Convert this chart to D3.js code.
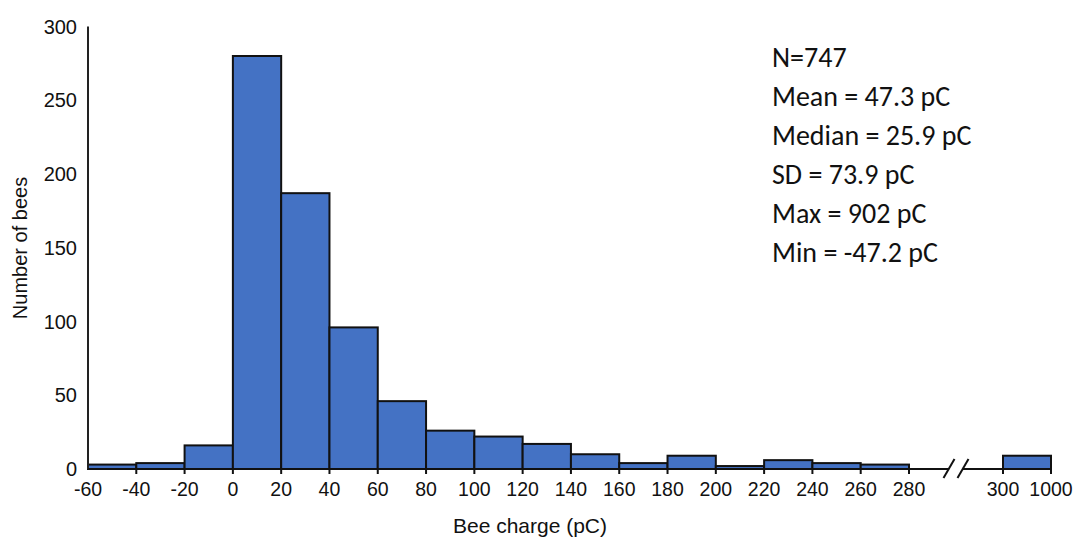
<!DOCTYPE html>
<html>
<head>
<meta charset="utf-8">
<script src="https://cdn.jsdelivr.net/npm/d3@7/dist/d3.min.js"></script>
<style>
  html, body { margin: 0; padding: 0; background: #fff; }
  svg { display: block; }
</style>
</head>
<body>
<div id="chart"></div>
<script>
// Histogram bins of bee charge (pC): lower edge, upper edge, count
const binStart = [-60, -40, -20, 0, 20, 40, 60, 80, 100, 120, 140, 160, 180, 200, 220, 240, 260, 300];
const binEnd   = [-40, -20, 0, 20, 40, 60, 80, 100, 120, 140, 160, 180, 200, 220, 240, 260, 280, 1000];
const counts   = [3, 4, 16, 280, 187, 96, 46, 26, 22, 17, 10, 4, 9, 2, 6, 4, 3, 9];

// Axis ticks
const xTickValues = [-40, -20, 0, 20, 40, 60, 80, 100, 120, 140, 160, 180, 200, 220, 240, 260, 280, 300, 1000];
const xLabelValues = [-60, -40, -20, 0, 20, 40, 60, 80, 100, 120, 140, 160, 180, 200, 220, 240, 260, 280, 300, 1000];
const yTickValues = [0, 50, 100, 150, 200, 250, 300];

// Summary statistics shown in the corner
const statLines = ["N=747", "Mean = 47.3 pC", "Median = 25.9 pC", "SD = 73.9 pC", "Max = 902 pC", "Min = -47.2 pC"];

const W = 1077, H = 538;
const svg = d3.select("#chart").append("svg").attr("width", W).attr("height", H);

// Broken x axis: piecewise-linear scale, 280..300 holds the break, 300..1000 is a single bin
const x = d3.scaleLinear().domain([-60, 280, 300, 1000]).range([88, 909, 1003, 1051]);
const y = d3.scaleLinear().domain([0, 300]).range([469, 26.5]);

const bins = binStart.map((s, i) => ({ x0: s, x1: binEnd[i], n: counts[i] }));

// Bars
svg.append("g").selectAll("rect").data(bins).join("rect")
  .attr("x", d => x(d.x0))
  .attr("y", d => y(d.n))
  .attr("width", d => x(d.x1) - x(d.x0))
  .attr("height", d => y(0) - y(d.n))
  .attr("fill", "#4472C4")
  .attr("stroke", "#111")
  .attr("stroke-width", 2);

// Y axis: plain line with labels
const yAxis = svg.append("g");
yAxis.append("line")
  .attr("x1", x(-60)).attr("x2", x(-60))
  .attr("y1", y(300)).attr("y2", y(0))
  .attr("stroke", "#222").attr("stroke-width", 2);
yAxis.selectAll("text").data(yTickValues).join("text")
  .attr("x", x(-60) - 11)
  .attr("y", d => y(d))
  .attr("dy", "0.36em")
  .attr("text-anchor", "end")
  .attr("font-family", "'Liberation Sans', Arial, sans-serif")
  .attr("font-size", 20)
  .attr("fill", "#111")
  .text(d => d);

// X axis line, split at the break
const breakC = x(290);
const xAxis = svg.append("g");
[[x(-60), breakC - 7], [breakC + 7, x(1000)]].forEach(([a, b]) => {
  xAxis.append("line")
    .attr("x1", a).attr("x2", b)
    .attr("y1", y(0)).attr("y2", y(0))
    .attr("stroke", "#111").attr("stroke-width", 2);
});
// break marks
[-7, 7].forEach(off => {
  xAxis.append("line")
    .attr("x1", breakC + off - 5.5).attr("y1", y(0) + 9)
    .attr("x2", breakC + off + 5.5).attr("y2", y(0) - 10)
    .attr("stroke", "#111").attr("stroke-width", 2);
});
// tick marks
xAxis.selectAll("line.tick").data(xTickValues).join("line")
  .attr("class", "tick")
  .attr("x1", d => x(d)).attr("x2", d => x(d))
  .attr("y1", y(0)).attr("y2", y(0) + 5)
  .attr("stroke", "#111").attr("stroke-width", 2);
// tick labels
xAxis.selectAll("text").data(xLabelValues).join("text")
  .attr("x", d => x(d))
  .attr("y", 496)
  .attr("text-anchor", "middle")
  .attr("font-family", "'Liberation Sans', Arial, sans-serif")
  .attr("font-size", 19.5)
  .attr("fill", "#111")
  .text(d => d);

// Axis titles
svg.append("text")
  .attr("x", 530).attr("y", 533)
  .attr("text-anchor", "middle")
  .attr("font-family", "'Liberation Sans', Arial, sans-serif")
  .attr("font-size", 21)
  .attr("fill", "#111")
  .text("Bee charge (pC)");

svg.append("text")
  .attr("transform", "translate(27,248) rotate(-90)")
  .attr("text-anchor", "middle")
  .attr("font-family", "'Liberation Sans', Arial, sans-serif")
  .attr("font-size", 20)
  .attr("fill", "#111")
  .text("Number of bees");

// Summary statistics block
svg.append("g").selectAll("text").data(statLines).join("text")
  .attr("x", 772)
  .attr("y", (d, i) => 67 + i * 39)
  .attr("font-family", "Carlito, Calibri, Lato, 'Open Sans', sans-serif")
  .attr("font-size", 28)
  .attr("fill", "#111")
  .text(d => d);
</script>
</body>
</html>
